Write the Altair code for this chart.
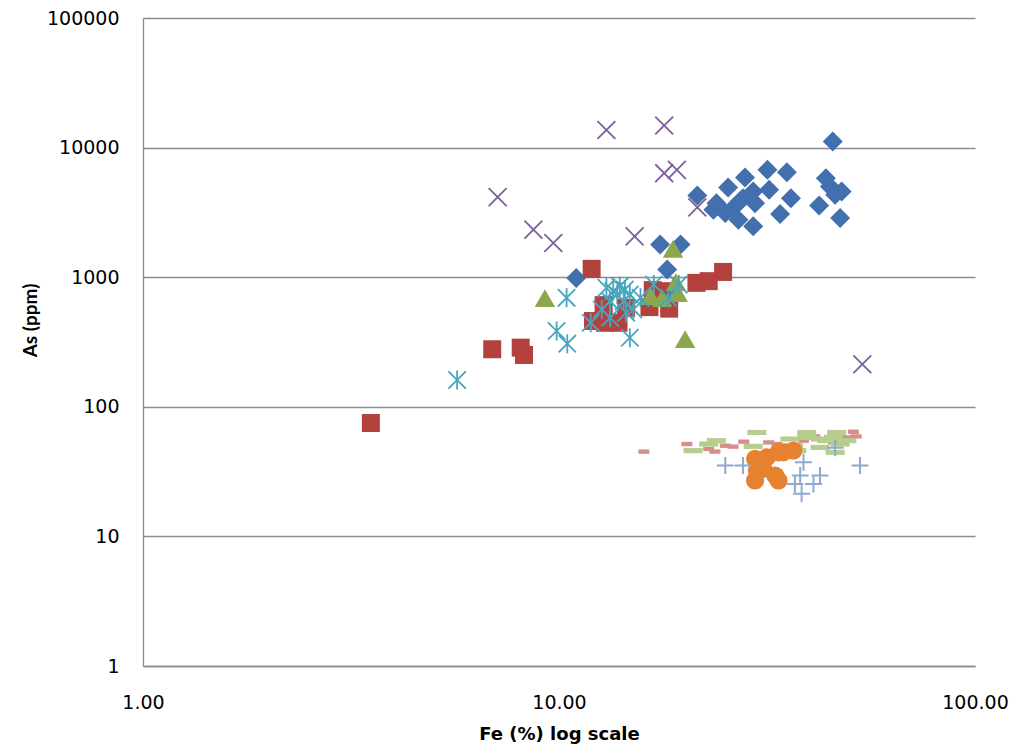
import altair as alt
import pandas as pd

# ---- data (Fe %, As ppm) ----
diamond_fe = [21.5, 23.9, 23.5, 25.5, 28.0, 25.1, 27.0, 27.2, 29.3, 29.6, 29.3, 31.7, 32.0, 35.3,
              36.1, 34.0, 42.2, 43.8, 44.8, 46.1, 47.8, 47.4, 45.5, 27.7, 26.2, 11.0, 17.5, 19.6, 18.2]
diamond_as = [4275, 3728, 3319, 4924, 5878, 3124, 2779, 3845, 4590, 3728, 2467, 6733, 4728, 6457,
              4074, 3069, 3580, 5807, 5012, 4326, 4590, 2858, 11130, 4074, 3413, 988, 1785, 1785, 1146]

square_fe = [3.53, 6.91, 8.09, 8.24, 11.98, 12.07, 12.8, 12.9, 13.9, 14.5, 16.5, 18.4, 16.8, 18.0, 21.4, 22.9, 24.8]
square_as = [75, 278, 286, 251, 1160, 459, 609, 445, 445, 580, 588, 572, 795, 780, 904, 932, 1098]

triangle_fe = [9.25, 16.6, 17.7, 19.3, 18.8, 20.1, 19.1]
triangle_as = [690, 714, 689, 753, 1657, 333, 915]

x_fe = [13.0, 7.12, 8.68, 9.69, 15.2, 17.9, 17.9, 19.2, 21.5, 53.6]
x_as = [13680, 4148, 2328, 1836, 2066, 14800, 6346, 6733, 3455, 213]

star_fe = [5.69, 10.43, 9.87, 10.47, 11.92, 12.67, 13.27, 13.5, 14.0, 14.4, 14.8, 14.5, 15.1, 14.8,
           16.9, 15.7, 18.3, 19.4, 13.27, 14.3, 13.0, 13.8]
star_as = [161, 693, 384, 307, 445, 564, 486, 780, 853, 804, 736, 531, 564, 341,
           879, 693, 693, 879, 653, 653, 827, 736]

circle_fe = [29.6, 31.6, 29.6, 29.9, 33.1, 33.7, 34.6, 36.6, 33.7, 31.0]
circle_as = [39.6, 40.7, 27.0, 32.2, 29.5, 27.0, 44.5, 45.9, 44.5, 33.2]

plus_fe = [25.1, 27.7, 38.7, 38.0, 42.4, 40.9, 36.9, 38.3, 52.9, 46.1]
plus_as = [35.2, 35.2, 37.3, 29.5, 29.5, 25.4, 25.4, 21.3, 35.2, 48.4]

reddash_fe = [16.0, 20.3, 22.9, 23.7, 25.1, 26.2, 27.8, 31.9, 33.4, 35.9, 38.7, 41.2, 45.7, 49.6, 51.8, 51.0]
reddash_as = [45.1, 51.6, 47.3, 45.1, 50.1, 49.3, 53.8, 53.1, 51.6, 45.9, 54.8, 59.1, 53.1, 58.1, 59.1, 64.2]

greendash_fe = [21.0, 22.9, 23.9, 29.9, 29.3, 35.9, 36.6, 39.4, 39.4, 42.4, 45.7, 46.5, 47.4, 46.1,
                44.0, 37.3, 42.4, 49.2]
greendash_as = [45.9, 51.6, 54.8, 63.4, 49.5, 56.4, 50.1, 63.4, 58.1, 48.6, 58.1, 63.4, 51.6, 44.5,
                54.8, 45.9, 56.4, 54.8]

x_ticks = [1, 10, 100]
y_ticks = [1, 10, 100, 1000, 10000, 100000]

LABEL_FONT = "DejaVu Sans"
TITLE_FONT = "Lato"

xscale = alt.Scale(type="log", domain=[1, 100], nice=False)
yscale = alt.Scale(type="log", domain=[1, 100000], nice=False)

xaxis = alt.Axis(values=x_ticks, format=".2f", title="Fe (%) log scale", grid=False,
                 ticks=False, domainColor="#8c8c8c", domainWidth=1.3,
                 labelFont=LABEL_FONT, labelFontSize=19, labelColor="#000000", labelPadding=27,
                 titleFont="DejaVu Sans", titleFontSize=18, titleFontWeight="bold",
                 titleColor="#000000", titlePadding=13, labelFlush=False)
yaxis = alt.Axis(values=y_ticks, format="d", title="As (ppm)", grid=True, gridColor="#8c8c8c",
                 gridWidth=1.3, ticks=False, domainColor="#8c8c8c", domainWidth=1.3,
                 labelFont=LABEL_FONT, labelFontSize=19, labelColor="#000000", labelPadding=24,
                 titleFont=TITLE_FONT, titleFontSize=19, titleFontWeight="bold", titleColor="#000000",
                 titleX=-113, titleY=302, titleAngle=-90, titleAlign="center",
                 titleBaseline="middle", labelFlush=False)


def layer(fe, asv, shape, color, size, filled=True, stroke_w=0, opacity=1.0):
    df = pd.DataFrame({"fe": fe, "as": asv})
    if filled:
        m = alt.Chart(df).mark_point(shape=shape, filled=True, color=color, size=size,
                                     opacity=opacity, strokeWidth=0)
    else:
        m = alt.Chart(df).mark_point(shape=shape, filled=False, color=color, size=size,
                                     opacity=opacity, strokeWidth=stroke_w)
    return m.encode(
        x=alt.X("fe:Q", scale=xscale, axis=xaxis),
        y=alt.Y("as:Q", scale=yscale, axis=yaxis),
    )


X_PATH = "M-1,-1L1,1M-1,1L1,-1"
STAR_PATH = "M-1,-1L1,1M-1,1L1,-1M0,-1.1L0,1.1"
PLUS_PATH = "M-1,0L1,0M0,-1L0,1"
RDASH_PATH = "M-1,-0.4L1,-0.4L1,0.4L-1,0.4Z"
GDASH_PATH = "M-1,-0.27L1,-0.27L1,0.27L-1,0.27Z"

layers = [
    layer(diamond_fe, diamond_as, "diamond", "#4270AE", 400),
    layer(square_fe, square_as, "square", "#B3423F", 324),
    layer(triangle_fe, triangle_as, "triangle-up", "#8BA94C", 420),
    layer(x_fe, x_as, X_PATH, "#7D5E9E", 320, filled=False, stroke_w=1.8),
    layer(star_fe, star_as, STAR_PATH, "#46A6C0", 300, filled=False, stroke_w=1.8),
    layer(reddash_fe, reddash_as, RDASH_PATH, "#D68E8C", 121),
    layer(greendash_fe, greendash_as, GDASH_PATH, "#B5CE8E", 361),
    layer(circle_fe, circle_as, "circle", "#E6822F", 330),
    layer(plus_fe, plus_as, PLUS_PATH, "#8EA8D0", 289, filled=False, stroke_w=2),
]

chart = alt.layer(*layers).properties(
    width=832, height=648,
    background="white",
    autosize=alt.AutoSizeParams(type="none"),
    padding={"left": 135, "top": 10, "right": 34, "bottom": 78},
).configure_view(stroke=None)

chart.save("out.html", embed_options={"renderer": "svg", "actions": False})
